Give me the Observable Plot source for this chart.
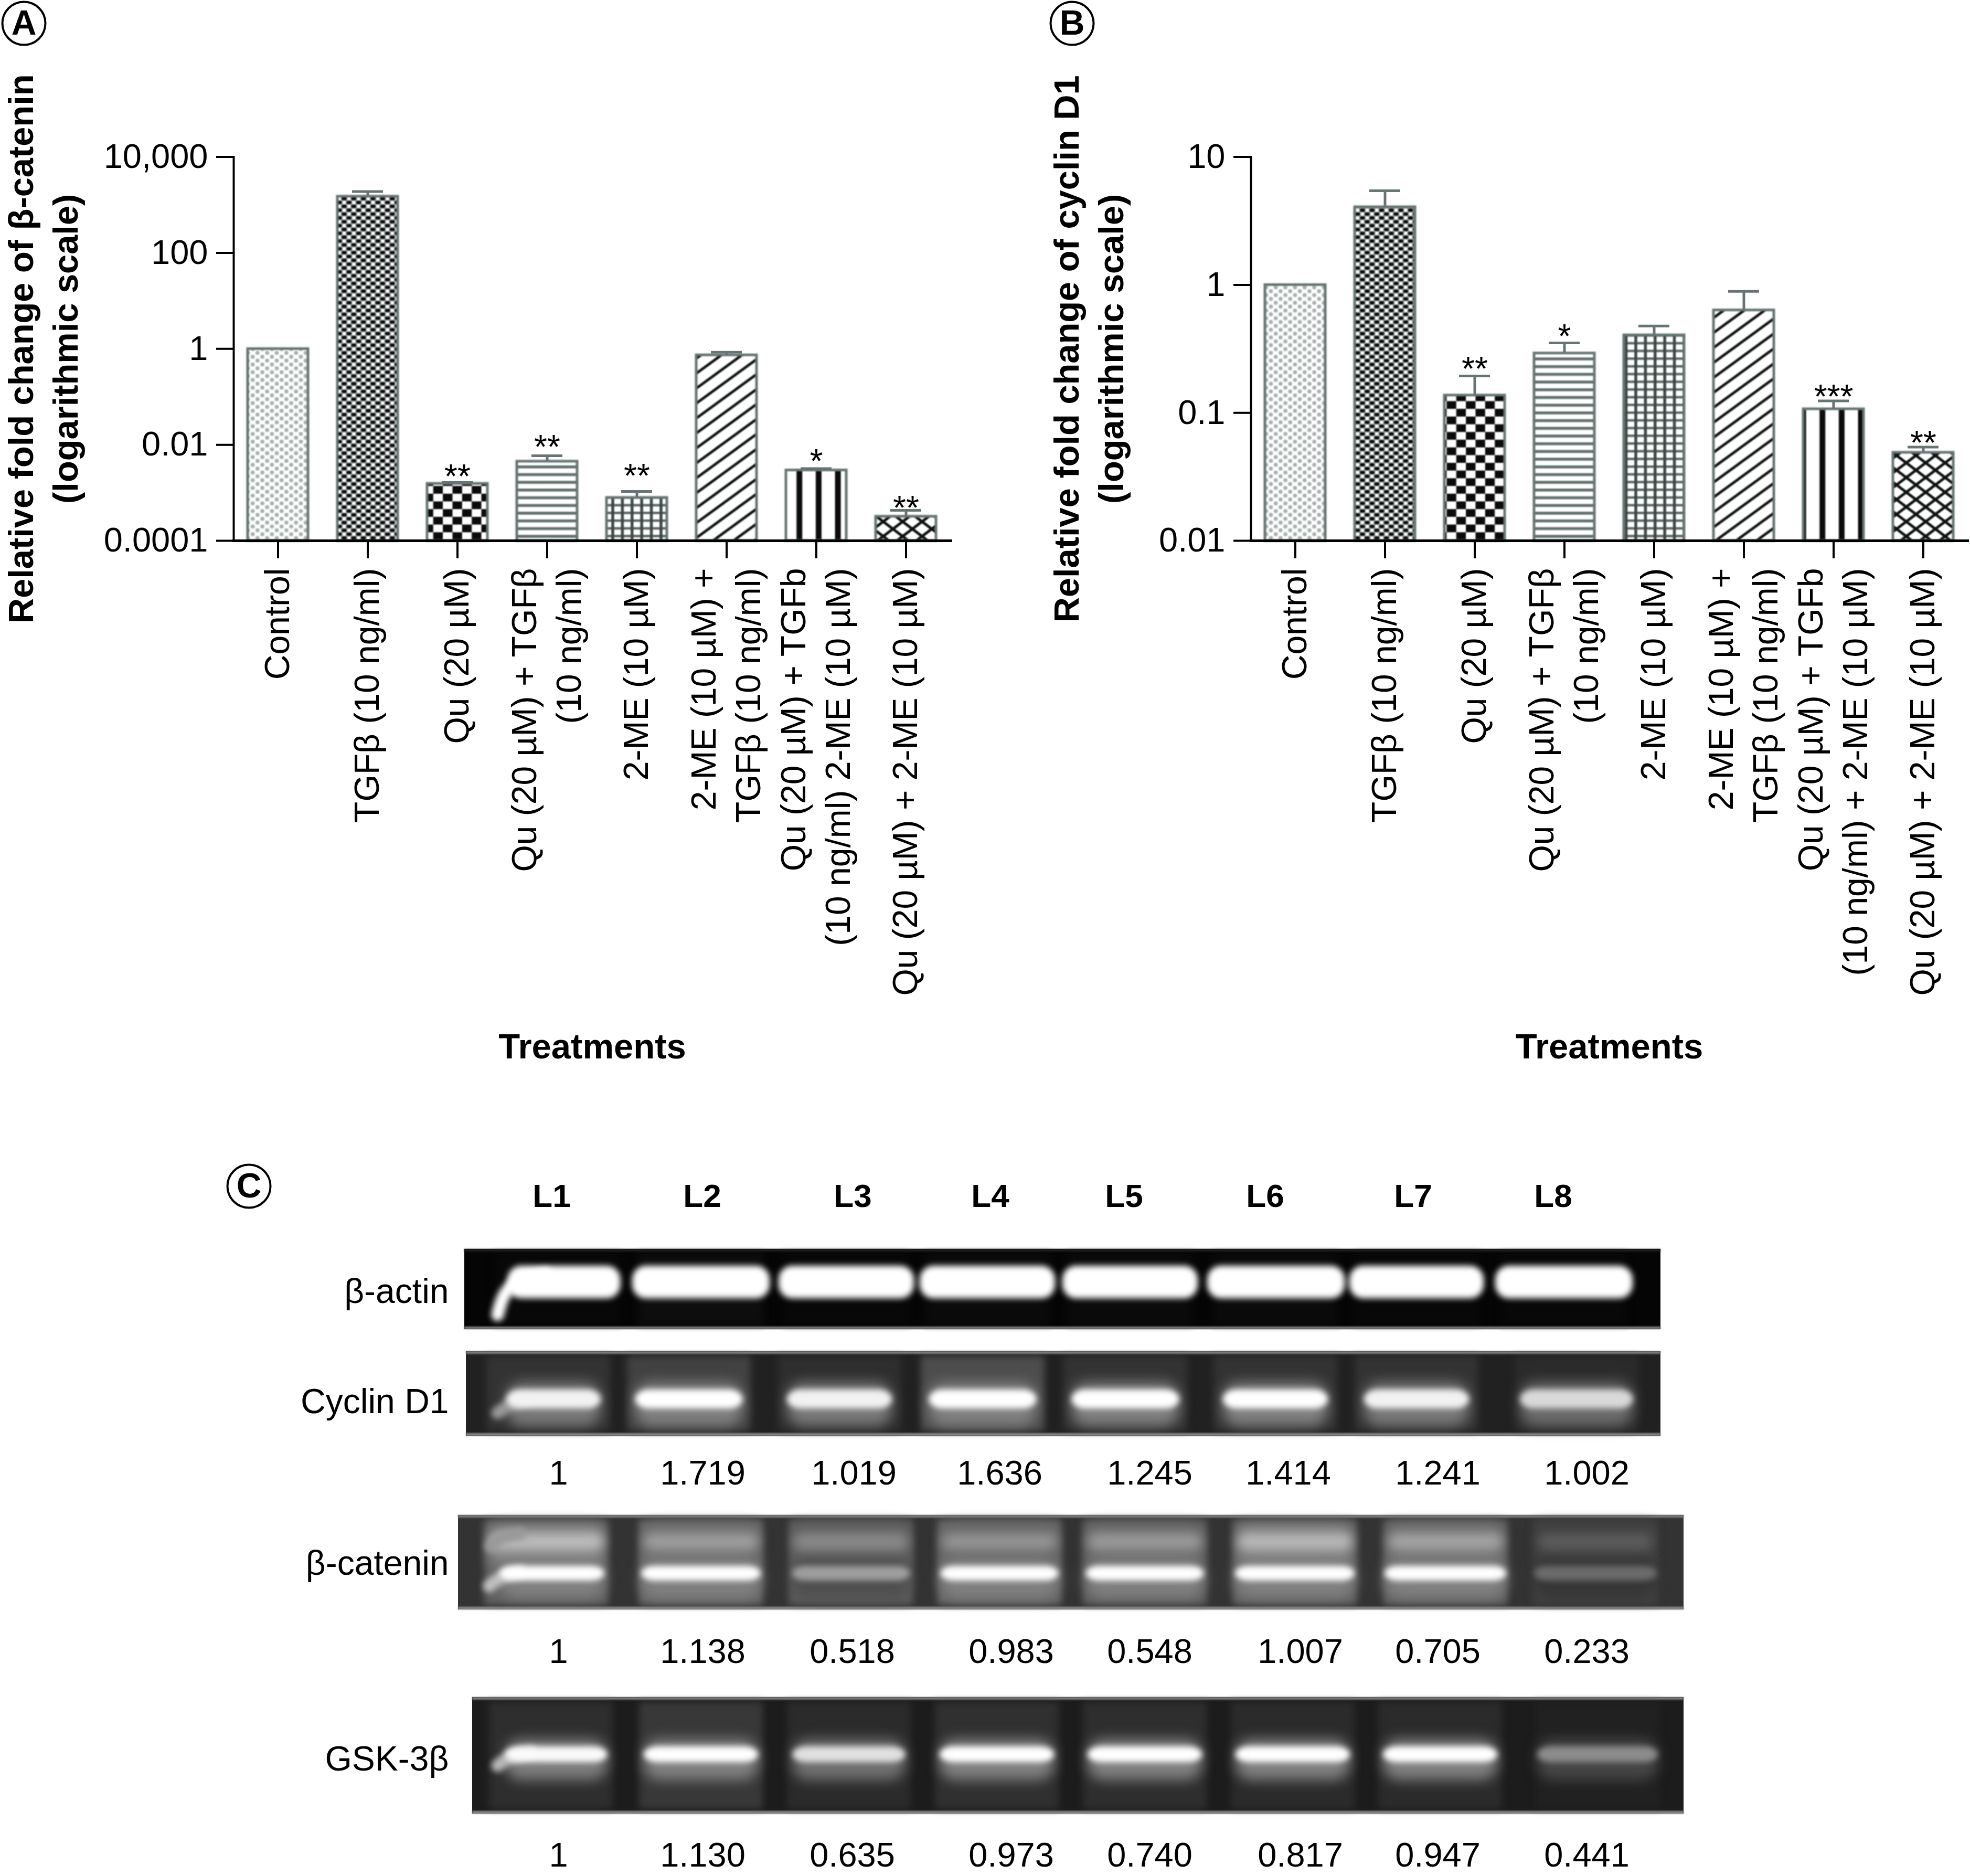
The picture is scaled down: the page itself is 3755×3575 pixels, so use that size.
<!DOCTYPE html>
<html>
<head>
<meta charset="utf-8">
<script src="https://cdn.jsdelivr.net/npm/d3@7"></script>
<script src="https://cdn.jsdelivr.net/npm/@observablehq/plot@0.6"></script>
<style>
html,body{margin:0;padding:0;background:#fff}
#page{position:relative;width:3755px;height:3575px;overflow:hidden;background:#fff;font-family:"Liberation Sans",Arial,sans-serif}
#page>div,#page>svg,#page figure{margin:0}
.slot{position:absolute}
</style>
</head>
<body>
<div id="page">
<svg width="0" height="0" style="position:absolute">
  <defs>
    <pattern id="pDots" patternUnits="userSpaceOnUse" width="18.35" height="14.7">
      <rect width="18.35" height="14.7" fill="#fff"/>
      <circle cx="4.6" cy="3.7" r="3.9" fill="#a6b0ae"/><circle cx="13.75" cy="11" r="3.9" fill="#a6b0ae"/>
    </pattern>
    <pattern id="pDense" patternUnits="userSpaceOnUse" width="18.35" height="14.7">
      <rect width="18.35" height="14.7" fill="#8f9796"/>
      <ellipse cx="4.6" cy="3.7" rx="5" ry="3.1" fill="#060606"/><ellipse cx="13.75" cy="11" rx="5" ry="3.1" fill="#060606"/>
      <circle cx="13.75" cy="3.7" r="3.4" fill="#fff"/><circle cx="4.6" cy="11" r="3.4" fill="#fff"/>
    </pattern>
    <pattern id="pCheck" patternUnits="userSpaceOnUse" width="36.7" height="29.4">
      <rect width="36.7" height="29.4" fill="#fff"/>
      <rect x="0" y="0" width="18.35" height="14.7" fill="#0b0b0b"/>
      <rect x="18.35" y="14.7" width="18.35" height="14.7" fill="#0b0b0b"/>
    </pattern>
    <pattern id="pHoriz" patternUnits="userSpaceOnUse" width="20" height="14.7">
      <rect width="20" height="14.7" fill="#fff"/>
      <rect y="5" width="20" height="5.5" fill="#5f6e6b"/>
    </pattern>
    <pattern id="pGrid" patternUnits="userSpaceOnUse" width="18.4" height="14.7">
      <rect width="18.4" height="14.7" fill="#fff"/>
      <rect y="5" width="18.4" height="4.5" fill="#55625f"/>
      <rect x="6" width="5.5" height="14.7" fill="#3c4644"/>
    </pattern>
    <pattern id="pDiag" patternUnits="userSpaceOnUse" width="39" height="28.5">
      <rect width="39" height="28.5" fill="#fff"/>
      <path d="M-39,57L78,-28.5M-39,28.5L39,-28.5M0,57L78,0" stroke="#0d1211" stroke-width="5" fill="none"/>
    </pattern>
    <pattern id="pVert" patternUnits="userSpaceOnUse" width="36.7" height="20">
      <rect width="36.7" height="20" fill="#fff"/>
      <rect x="13.5" width="11" height="20" fill="#0b0b0b"/>
    </pattern>
    <pattern id="pCross" patternUnits="userSpaceOnUse" width="37" height="28">
      <rect width="37" height="28" fill="#fff"/>
      <path d="M0,0L37,28M37,0L0,28" stroke="#0d1211" stroke-width="5.2" fill="none"/>
    </pattern>
  </defs>
</svg>
</div>
<script>
// ---------- Panels A and B: data ----------
const treatments = ["Control","TGFβ","Qu","Qu+TGFβ","2-ME","2-ME+TGFβ","Qu+TGFβ+2-ME","Qu+2-ME"];
const labelsA = ["Control","TGFβ (10 ng/ml)","Qu (20 µM)","Qu (20 µM) + TGFβ\n(10 ng/ml)","2-ME (10 µM)","2-ME (10 µM) +\nTGFβ (10 ng/ml)","Qu (20 µM) + TGFb\n(10 ng/ml) 2-ME (10 µM)","Qu (20 µM) + 2-ME (10 µM)"];
const labelsB = ["Control","TGFβ (10 ng/ml)","Qu (20 µM)","Qu (20 µM) + TGFβ\n(10 ng/ml)","2-ME (10 µM)","2-ME (10 µM) +\nTGFβ (10 ng/ml)","Qu (20 µM) + TGFb\n(10 ng/ml) + 2-ME (10 µM)","Qu (20 µM) + 2-ME (10 µM)"];
const valuesA = [1, 1500, 0.00155, 0.0045, 0.00079, 0.74, 0.00295, 0.00032];
const errorsA = [1, 1900, 0.00165, 0.0059, 0.00107, 0.85, 0.0032, 0.00043];
const starsA  = ["", "", "**", "**", "**", "", "*", "**"];
const starAtA = [null, null, 0.0025, 0.0104, 0.0026, null, 0.0052, 0.00056];
const valuesB = [1, 4.06, 0.137, 0.292, 0.405, 0.634, 0.107, 0.0489];
const errorsB = [1, 5.44, 0.194, 0.352, 0.477, 0.889, 0.124, 0.054];
const starsB  = ["", "", "**", "*", "", "", "***", "**"];
const starAtB = [null, null, 0.232, 0.417, null, null, 0.141, 0.0612];
const fills = ["pDots","pDense","pCheck","pHoriz","pGrid","pDiag","pVert","pCross"];
const yTicksA = [0.0001, 0.01, 1, 100, 10000];
const yTickLabelsA = ["0.0001","0.01","1","100","10,000"];
const yTicksB = [0.01, 0.1, 1, 10];
const yTickLabelsB = ["0.01","0.1","1","10"];
const titleA = "Relative fold change of β-catenin\n(logarithmic scale)";
const titleB = "Relative fold change of cyclin D1\n(logarithmic scale)";
const xTitle = "Treatments";

// ---------- Panel C: data ----------
const lanes = ["L1","L2","L3","L4","L5","L6","L7","L8"];
const blotNames = ["β-actin","Cyclin D1","β-catenin","GSK-3β"];
const ratioCyclin  = ["1","1.719","1.019","1.636","1.245","1.414","1.241","1.002"];
const ratioCatenin = ["1","1.138","0.518","0.983","0.548","1.007","0.705","0.233"];
const ratioGsk     = ["1","1.130","0.635","0.973","0.740","0.817","0.947","0.441"];
// lane background and band brightness, 0 black to 1 white, read from the blots
const groundLevel  = [0.02, 0.13, 0.2, 0.11];
const laneActin    = [0.03,0.05,0.03,0.04,0.04,0.04,0.03,0.03];
const laneCyclin   = [0.2,0.26,0.18,0.3,0.2,0.2,0.2,0.17];
const laneCatenin  = [0.38,0.4,0.36,0.4,0.37,0.38,0.38,0.26];
const laneGsk      = [0.18,0.22,0.17,0.19,0.18,0.17,0.17,0.13];
const bandActin    = [1,1,1,1,1,1,1,1];
const bandCyclin   = [0.95,1,0.95,1,1,1,0.95,0.85];
const bandCatenin  = [1,1,0.62,1,1,1,1,0.42];
const upperCatenin = [0.74,0.62,0.54,0.58,0.6,0.72,0.64,0.36];
const bandGsk      = [0.98,1,0.88,1,1,1,1,0.55];

// ---------- Layout (page pixels of the reference) ----------
const frameA = {left:445, right:1812, top:298.6, bottom:1030};
const frameB = {left:2384, right:3750, top:298.6, bottom:1030};
const laneCenters = [
  [1075,1336,1613,1882,2154,2432,2700,2981],
  [1055,1313,1600,1873,2145,2431,2700,3005],
  [1052,1336,1622,1905,2182,2468,2755,3041],
  [1060,1336,1618,1900,2182,2464,2745,3045]];
const laneWidths = [[215,262,258,258,258,262,256,262],[180,205,200,205,205,200,200,215],[200,228,225,225,225,228,232,235],[195,218,215,218,218,218,218,230]];
const laneBackCenters = [
  [1063,1336,1613,1882,2154,2432,2700,2981],
  [1045,1313,1600,1873,2145,2431,2700,3005],
  [1041,1336,1622,1905,2182,2468,2755,3041],
  [1050,1336,1618,1900,2182,2464,2745,3045]];
const laneBackWidths = [240,236,236,236];
const blotBox = [
  {x1:885,x2:3165,y1:2380,y2:2533},
  {x1:888,x2:3165,y1:2575,y2:2736},
  {x1:873,x2:3209,y1:2887,y2:3067},
  {x1:900,x2:3209,y1:3234,y2:3456}];
const bandSpan = [[2412,2474],[2648,2684],[2984,3012],[3328,3358]];
const upperSpan = [2922,2954];
const tails = [
  {blot:0,v:1,points:[[948,2505],[958,2465],[985,2438],[1040,2428]]},
  {blot:1,v:0.6,points:[[948,2692],[970,2676],[1010,2665]]},
  {blot:2,v:0.75,points:[[932,3022],[950,3006],[990,2994]]},
  {blot:2,v:0.6,points:[[936,2946],[950,2930],[990,2922]]},
  {blot:3,v:0.72,points:[[948,3364],[965,3350],[1010,3338]]}];
const headerX = [1051,1338,1625,1887,2142,2411,2693,2960];
const ratioRows = [
  {y:2808, text:ratioCyclin,  x:[1064,1339,1627,1905,2191,2455,2740,3024]},
  {y:3148, text:ratioCatenin, x:[1064,1339,1624,1927,2191,2478,2740,3024]},
  {y:3536, text:ratioGsk,     x:[1064,1339,1624,1927,2191,2478,2740,3024]}];
const blotLabelY = [2461,2671,2979,3352];

const FONT = '"Liberation Sans",Arial,sans-serif';
const page = document.getElementById("page");
function place(node, left, top){
  const d = document.createElement("div");
  d.className = "slot";
  d.style.left = left + "px"; d.style.top = top + "px";
  d.appendChild(node); page.appendChild(d);
}

function barPanel({left, width, height, frame, labels, values, errors, stars, starAt, ticks, tickLabels, title, titleDx, domain, letter, letterX}){
  const rows = treatments.map((t,i)=>({t, label:labels[i], v:values[i], e:errors[i], s:stars[i], at:starAt[i], fill:`url(#${fills[i]})`}));
  const base = domain[0];
  const fmt = new Map(ticks.map((t,i)=>[t,tickLabels[i]]));
  const grey = "#667573";
  const fig = Plot.plot({
    width, height,
    marginLeft: frame.left-left, marginRight: left+width-frame.right,
    marginTop: frame.top, marginBottom: height-frame.bottom,
    style:{fontFamily:FONT, background:"transparent", overflow:"visible"},
    color:{type:"identity"},
    x:{type:"band", domain:treatments, paddingInner:0.327, paddingOuter:0.155, label:null},
    y:{type:"log", domain, label:null},
    marks:[
      Plot.barY(rows,{x:"t", y1:base, y2:"v", fill:"fill", stroke:grey, strokeWidth:5, imageFilter:"blur(0.9px)"}),
      Plot.ruleX(rows.filter(d=>d.e>d.v),{x:"t", y1:"v", y2:"e", stroke:grey, strokeWidth:5}),
      Plot.tickY(rows.filter(d=>d.e>d.v),{x:"t", y:"e", stroke:grey, strokeWidth:5, insetLeft:28, insetRight:28}),
      Plot.text(rows.filter(d=>d.s),{x:"t", y:"at", text:"s", fontSize:64, dy:7, fill:"#000", lineAnchor:"middle"}),
      Plot.frame({anchor:"left", stroke:"#000", strokeWidth:4}),
      Plot.frame({anchor:"bottom", stroke:"#000", strokeWidth:5}),
      Plot.axisX({tickSize:34, strokeWidth:4, stroke:"#000", tickFormat:()=>null, label:null}),
      Plot.axisY(ticks,{tickSize:33, tickPadding:16, strokeWidth:4, stroke:"#000", fill:"#000", fontSize:65, tickFormat:d=>fmt.get(d), label:null}),
      Plot.text(rows,{x:"t", text:"label", frameAnchor:"bottom", dx:-6, dy:52, rotate:-90, textAnchor:"end", lineAnchor:"middle", lineHeight:1.3, fontSize:66, fill:"#000"}),
      Plot.text([title],{frameAnchor:"left", dx:titleDx, rotate:-90, textAnchor:"middle", lineAnchor:"middle", lineHeight:1.27, fontSize:66.8, fontWeight:"bold", fill:"#000"}),
      Plot.text([xTitle],{frameAnchor:"bottom", dy:height-frame.bottom-(height-1995), lineAnchor:"middle", fontSize:67, fontWeight:"bold", fill:"#000"}),
      Plot.dot([letter],{frameAnchor:"top-left", dx:letterX-frame.left, dy:44-frame.top, r:41, stroke:"#000", strokeWidth:4, fill:"#fff"}),
      Plot.text([letter],{frameAnchor:"top-left", dx:letterX-frame.left, dy:44-frame.top, textAnchor:"middle", lineAnchor:"middle", fontSize:66, fontWeight:"bold", fill:"#000"})
    ]
  });
  place(fig, left, 0);
}

barPanel({left:0, width:1900, height:2100, frame:frameA, labels:labelsA, values:valuesA, errors:errorsA, stars:starsA, starAt:starAtA,
  ticks:yTicksA, tickLabels:yTickLabelsA, title:titleA, titleDx:78-445, domain:[0.0001,10000], letter:"A", letterX:45});
barPanel({left:1950, width:1805, height:2100, frame:frameB, labels:labelsB, values:valuesB, errors:errorsB, stars:starsB, starAt:starAtB,
  ticks:yTicksB, tickLabels:yTickLabelsB, title:titleB, titleDx:2071-2384, domain:[0.01,10], letter:"B", letterX:2043});

// ---------- Panel C ----------
const backs = [laneActin,laneCyclin,laneCatenin,laneGsk];
const bandsAll = [bandActin,bandCyclin,bandCatenin,bandGsk];
const grounds = blotBox.map((b,i)=>({...b, v:groundLevel[i]}));
const laneRects = blotBox.flatMap((b,i)=>backs[i].map((v,k)=>({
  x1:laneBackCenters[i][k]-laneBackWidths[i]/2, x2:laneBackCenters[i][k]+laneBackWidths[i]/2, y1:b.y1+9, y2:b.y2-9, v})));
const bandRects = blotBox.flatMap((b,i)=>bandsAll[i].map((v,k)=>({
  x1:laneCenters[i][k]-laneWidths[i][k]/2, x2:laneCenters[i][k]+laneWidths[i][k]/2, y1:bandSpan[i][0], y2:bandSpan[i][1], v})));
const upperRects = upperCatenin.map((v,k)=>({
  x1:laneBackCenters[2][k]-108, x2:laneBackCenters[2][k]+108, y1:upperSpan[0], y2:upperSpan[1], v}));
const upperHalos = upperRects.map(d=>({...d, y1:d.y1-18, y2:d.y2+30, v:d.v*0.7}));
const halos = bandRects.filter((d,i)=>i>=8).map(d=>({...d, y1:d.y1-14, y2:d.y2+34, v:d.v*0.5}));
const edges = blotBox.flatMap((b,i)=>[{x1:b.x1,x2:b.x2,y1:b.y1,y2:b.y1+5,v:i?0.5:0.12},{x1:b.x1,x2:b.x2,y1:b.y2-5,y2:b.y2,v:i?0.55:0.5}]);
const tailPts = tails.flatMap((t,i)=>t.points.map(([x,y])=>({x,y,z:i,v:t.v})));
const ratioData = ratioRows.flatMap(r=>r.text.map((t,k)=>({x:r.x[k], y:r.y, t})));
const blotLabels = blotNames.map((n,i)=>({n, y:blotLabelY[i]}));
const headers = lanes.map((l,i)=>({l, x:headerX[i]}));

const left0 = 400, top0 = 2180, wC = 2900, hC = 1395;
const figC = Plot.plot({
  width:wC, height:hC, margin:0,
  style:{fontFamily:FONT, background:"transparent", overflow:"visible"},
  x:{domain:[left0,left0+wC], range:[0,wC], axis:null},
  y:{domain:[top0,top0+hC], range:[0,hC], axis:null},
  color:{type:"linear", domain:[0,1], range:["#000000","#ffffff"]},
  marks:[
    Plot.rect(grounds,{x1:"x1",x2:"x2",y1:"y1",y2:"y2",fill:"v"}),
    Plot.rect(laneRects,{x1:"x1",x2:"x2",y1:"y1",y2:"y2",fill:"v",imageFilter:"blur(7px)"}),
    Plot.rect(edges,{x1:"x1",x2:"x2",y1:"y1",y2:"y2",fill:"v",imageFilter:"blur(1.5px)"}),
    Plot.rect(upperHalos,{x1:"x1",x2:"x2",y1:"y1",y2:"y2",fill:"v",rx:14,imageFilter:"blur(12px)"}),
    Plot.rect(halos,{x1:"x1",x2:"x2",y1:"y1",y2:"y2",fill:"v",rx:30,imageFilter:"blur(12px)"}),
    Plot.rect(upperRects,{x1:"x1",x2:"x2",y1:"y1",y2:"y2",fill:"v",rx:14,imageFilter:"blur(10px)"}),
    Plot.line(tailPts,{x:"x",y:"y",z:"z",stroke:"v",strokeWidth:24,curve:"basis",imageFilter:"blur(6px)"}),
    Plot.rect(bandRects,{x1:"x1",x2:"x2",y1:"y1",y2:"y2",fill:"v",rx:26,imageFilter:"blur(6px)"}),
    Plot.text(headers,{x:"x",y:()=>2280,text:"l",fontSize:62,fontWeight:"bold",fill:"#000",lineAnchor:"middle"}),
    Plot.text(blotLabels,{x:()=>855,y:"y",text:"n",textAnchor:"end",fontSize:66,fill:"#000",lineAnchor:"middle"}),
    Plot.text(ratioData,{x:"x",y:"y",text:"t",fontSize:65,fill:"#000",lineAnchor:"middle"}),
    Plot.dot(["C"],{x:()=>474,y:()=>2260,r:41,stroke:"#000",strokeWidth:4,fill:"#fff"}),
    Plot.text(["C"],{x:()=>474,y:()=>2260,fontSize:66,fontWeight:"bold",fill:"#000",lineAnchor:"middle"})
  ]
});
place(figC, left0, top0);
</script>
</body>
</html>
